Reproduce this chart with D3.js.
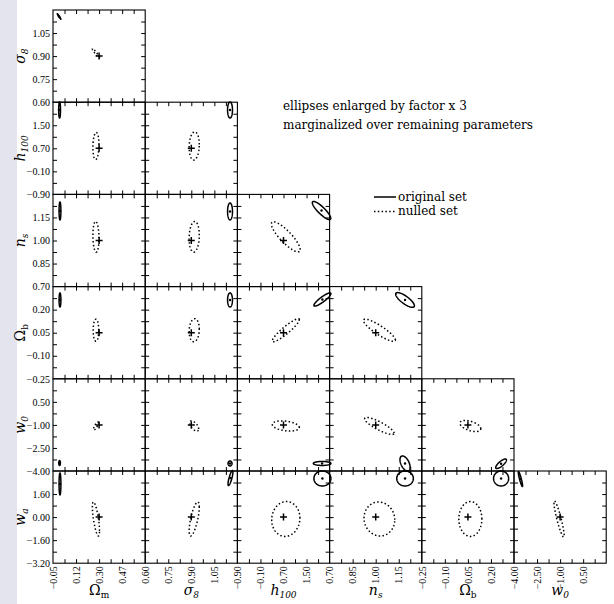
<!DOCTYPE html>
<html>
<head>
<meta charset="utf-8">
<script src="https://cdn.jsdelivr.net/npm/d3@7"></script>
<style>
  body { margin: 0; background: #fff; }
  svg { display: block; }
</style>
</head>
<body>
<div id="chart"></div>
<script>
// parameters: symbol, subscript, axis start, label step, tick labels
var symbols = ["Ω", "σ", "h", "n", "Ω", "w", "w"];
var subs = ["m", "8", "100", "s", "b", "0", "a"];
var axisMin = [-0.05, 0.60, -0.90, 0.70, -0.25, -4.00, -3.20];
var axisStep = [0.175, 0.15, 0.80, 0.15, 0.15, 1.50, 1.60];
var tickLabels = [
    ["−0.05", "0.12", "0.30", "0.47"],
    ["0.60", "0.75", "0.90", "1.05"],
    ["−0.90", "−0.10", "0.70", "1.50"],
    ["0.70", "0.85", "1.00", "1.15"],
    ["−0.25", "−0.10", "0.05", "0.20"],
    ["−4.00", "−2.50", "−1.00", "0.50"],
    ["−3.20", "−1.60", "0.00", "1.60"]
];

// fiducial model and centres of the two sets
var fiducial = [0.30, 0.90, 0.70, 1.00, 0.05, -1.00, 0.00];
var nulledCenter = [0.276, 0.919, 0.78, 1.024, 0.066, -1.07, -0.13];

// one entry per panel: x param, y param,
// nulled [sx, sy, rho], original [cx, cy, sx, sy, rho]
var panels = [
    { px: 0, py: 1, n: [0.027, 0.029, -0.95], o: [-0.004, 1.158, 0.014, 0.018, -0.97] },

    { px: 0, py: 2, n: [0.023, 0.47, 0.1], o: [0.0, 2.03, 0.007, 0.28, 0] },
    { px: 1, py: 2, n: [0.033, 0.49, 0.1], o: [1.152, 2.03, 0.016, 0.28, 0] },

    { px: 0, py: 3, n: [0.023, 0.10, -0.1], o: [0.003, 1.192, 0.007, 0.059, 0] },
    { px: 1, py: 3, n: [0.033, 0.10, 0.1], o: [1.152, 1.189, 0.016, 0.055, 0] },
    { px: 2, py: 3, n: [0.50, 0.098, -0.85], o: [2.02, 1.195, 0.32, 0.059, -0.86] },

    { px: 0, py: 4, n: [0.021, 0.072, 0], o: [0.003, 0.263, 0.007, 0.046, 0] },
    { px: 1, py: 4, n: [0.033, 0.075, 0.1], o: [1.152, 0.263, 0.016, 0.046, 0] },
    { px: 2, py: 4, n: [0.47, 0.075, 0.92], o: [2.05, 0.266, 0.295, 0.043, 0.89] },
    { px: 3, py: 4, n: [0.104, 0.072, -0.88], o: [1.191, 0.263, 0.061, 0.048, -0.79] },

    { px: 0, py: 5, n: [0.019, 0.26, 0.8], o: [0.0, -3.48, 0.006, 0.16, 0] },
    { px: 1, py: 5, n: [0.029, 0.33, -0.6], o: [1.152, -3.51, 0.013, 0.16, 0] },
    { px: 2, py: 5, n: [0.47, 0.33, -0.3], o: [2.04, -3.51, 0.305, 0.13, 0] },
    { px: 3, py: 5, n: [0.096, 0.55, -0.85], o: [1.191, -3.51, 0.033, 0.49, -0.5] },
    { px: 4, py: 5, n: [0.068, 0.36, -0.5], o: [0.266, -3.53, 0.035, 0.31, 0.79] },

    { px: 0, py: 6, n: [0.027, 1.18, -0.7], o: [0.003, 2.30, 0.007, 0.76, 0] },
    { px: 1, py: 6, n: [0.033, 1.18, 0.7], o: [1.155, 2.71, 0.016, 0.52, 0.8] },
    { px: 2, py: 6, n: [0.49, 1.21, 0.05], o: [2.05, 2.68, 0.295, 0.52, 0] },
    { px: 3, py: 6, n: [0.10, 1.18, -0.05], o: [1.191, 2.68, 0.054, 0.52, 0] },
    { px: 4, py: 6, n: [0.075, 1.21, 0], o: [0.266, 2.68, 0.049, 0.52, 0] },
    { px: 5, py: 6, n: [0.33, 1.25, -0.9], o: [-3.58, 2.64, 0.14, 0.52, -0.9] }
];

var note = ["ellipses enlarged by factor x 3", "marginalized over remaining parameters"];
var legendNames = ["original set", "nulled set"];

// layout
var W = 614, H = 604;
var gridLeft = 53, gridTop = 10, P = 92.2;
var serif = "'DejaVu Serif', serif";
var tickFont = "'Liberation Serif', serif";

var svg = d3.select("#chart").append("svg")
    .attr("width", W)
    .attr("height", H);

// light strip on the left edge
svg.append("rect")
    .attr("x", 0).attr("y", 0)
    .attr("width", 17).attr("height", H)
    .attr("fill", "#e4e4ef");

function xScale(p) {
    return d3.scaleLinear().domain([axisMin[p], axisMin[p] + 4 * axisStep[p]]).range([0, P]);
}
function yScale(p) {
    return d3.scaleLinear().domain([axisMin[p], axisMin[p] + 4 * axisStep[p]]).range([P, 0]);
}
function minorTicks(p) {
    return d3.range(1, 8).map(function (i) { return axisMin[p] + i * axisStep[p] / 2; });
}
function labelTicks(p) {
    return d3.range(4).map(function (k) { return axisMin[p] + k * axisStep[p]; });
}

// ellipse with marginal widths sx, sy and correlation rho
function ellipse(cx, cy, sx, sy, rho) {
    var q = Math.sqrt(1 - rho * rho);
    return d3.range(90).map(function (i) {
        var t = (i / 90) * 2 * Math.PI;
        return [cx + sx * Math.cos(t), cy + sy * (rho * Math.cos(t) + q * Math.sin(t))];
    });
}

panels.forEach(function (d) {
    var col = d.px, row = d.py - 1;
    var x = xScale(d.px), y = yScale(d.py);
    var g = svg.append("g")
        .attr("transform", "translate(" + (gridLeft + col * P) + "," + (gridTop + row * P) + ")");

    // inward ticks on all four sides
    var axes = [
        [d3.axisBottom(x).tickValues(minorTicks(d.px)), "translate(0," + P + ")"],
        [d3.axisTop(x).tickValues(minorTicks(d.px)), "translate(0,0)"],
        [d3.axisLeft(y).tickValues(minorTicks(d.py)), "translate(0,0)"],
        [d3.axisRight(y).tickValues(minorTicks(d.py)), "translate(" + P + ",0)"]
    ];
    axes.forEach(function (a) {
        g.append("g")
            .attr("transform", a[1])
            .call(a[0].tickSize(-4).tickFormat(""))
            .call(function (s) { s.select(".domain").remove(); })
            .selectAll("line").attr("stroke", "#000").attr("stroke-width", 1);
    });

    g.append("rect")
        .attr("width", P).attr("height", P)
        .attr("fill", "none")
        .attr("stroke", "#000")
        .attr("stroke-width", 1.1);

    var line = d3.line()
        .x(function (p) { return x(p[0]); })
        .y(function (p) { return y(p[1]); })
        .curve(d3.curveLinearClosed);

    // nulled set (dotted)
    g.append("path")
        .attr("d", line(ellipse(nulledCenter[d.px], nulledCenter[d.py], d.n[0], d.n[1], d.n[2])))
        .attr("fill", "none")
        .attr("stroke", "#000")
        .attr("stroke-width", 1.5)
        .attr("stroke-dasharray", "1.5,2.3");

    // original set (solid) with its centre
    g.append("path")
        .attr("d", line(ellipse(d.o[0], d.o[1], d.o[2], d.o[3], d.o[4])))
        .attr("fill", "none")
        .attr("stroke", "#000")
        .attr("stroke-width", 1.5);
    g.append("circle")
        .attr("cx", x(d.o[0])).attr("cy", y(d.o[1]))
        .attr("r", 1.2)
        .attr("fill", "#000");

    // fiducial cross
    var fx = x(fiducial[d.px]), fy = y(fiducial[d.py]);
    g.append("path")
        .attr("d", "M" + (fx - 3.5) + "," + fy + "h7M" + fx + "," + (fy - 3.5) + "v7")
        .attr("stroke", "#000")
        .attr("stroke-width", 1.5);

    // tick labels on the left column
    if (col === 0) {
        g.append("g")
            .call(d3.axisLeft(y).tickValues(labelTicks(d.py))
                .tickFormat(function (v, i) { return tickLabels[d.py][i]; })
                .tickSize(0).tickPadding(3))
            .call(function (s) { s.select(".domain").remove(); })
            .selectAll("text")
            .attr("font-family", tickFont)
            .attr("font-size", 10)
            .attr("fill", "#000");
    }
    // rotated tick labels on the bottom row
    if (d.py === 6) {
        g.append("g")
            .attr("transform", "translate(0," + P + ")")
            .call(d3.axisBottom(x).tickValues(labelTicks(d.px))
                .tickFormat(function (v, i) { return tickLabels[d.px][i]; })
                .tickSize(0))
            .call(function (s) { s.select(".domain").remove(); })
            .selectAll("text")
            .attr("transform", "rotate(-90)")
            .attr("text-anchor", "end")
            .attr("x", -3).attr("y", 0)
            .attr("dy", "0.32em")
            .attr("font-family", tickFont)
            .attr("font-size", 10)
            .attr("fill", "#000");
    }
});

svg.selectAll(".tick line").attr("stroke", "#000");

function title(sel, p) {
    sel.attr("font-family", serif).attr("font-size", 14).attr("fill", "#000");
    sel.append("tspan")
        .attr("font-style", symbols[p] === "Ω" ? "normal" : "italic")
        .text(symbols[p]);
    sel.append("tspan")
        .attr("font-size", 9)
        .attr("font-style", p === 0 || p === 4 ? "normal" : "italic")
        .attr("dy", 3)
        .text(subs[p]);
}

// y titles (rows) and x titles (columns)
d3.range(1, 7).forEach(function (p) {
    var cy = gridTop + (p - 1) * P + P / 2;
    svg.append("text")
        .attr("transform", "translate(25," + cy + ") rotate(-90)")
        .attr("text-anchor", "middle")
        .call(title, p);
});
d3.range(0, 6).forEach(function (p) {
    var cx = gridLeft + p * P + P / 2;
    svg.append("text")
        .attr("x", cx).attr("y", 595)
        .attr("text-anchor", "middle")
        .call(title, p);
});

// notes
svg.selectAll(".note")
    .data(note)
    .enter().append("text")
    .attr("x", 283)
    .attr("y", function (d, i) { return 110 + i * 18.5; })
    .attr("font-family", serif)
    .attr("font-size", 12)
    .attr("fill", "#000")
    .text(function (d) { return d; });

// legend
var lg = svg.append("g").attr("transform", "translate(374,197)");
legendNames.forEach(function (name, i) {
    lg.append("line")
        .attr("x1", 0).attr("x2", 22)
        .attr("y1", i * 14.5).attr("y2", i * 14.5)
        .attr("stroke", "#000")
        .attr("stroke-width", 1.5)
        .attr("stroke-dasharray", i === 1 ? "1.5,2.3" : null);
    lg.append("text")
        .attr("x", 24).attr("y", i * 14.5 + 3.5)
        .attr("font-family", serif)
        .attr("font-size", 12)
        .attr("fill", "#000")
        .text(name);
});
</script>
</body>
</html>
